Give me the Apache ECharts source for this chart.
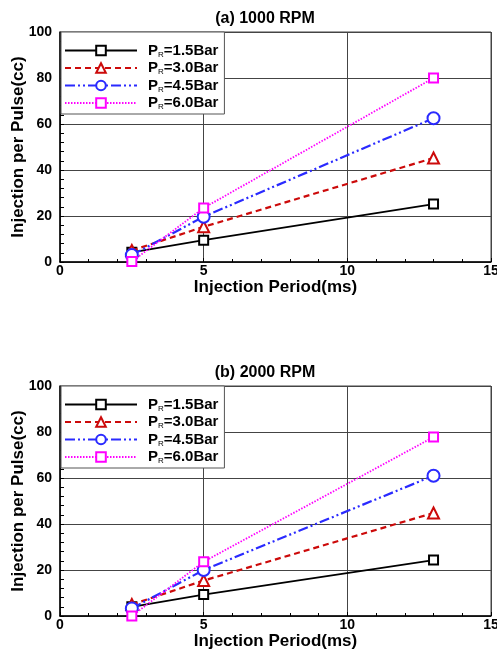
<!DOCTYPE html>
<html>
<head>
    <meta charset="utf-8">
    <title>Injection per Pulse</title>
    <script src="https://cdn.jsdelivr.net/npm/echarts@6/dist/echarts.min.js"></script>
    <style>
        html, body {
            margin: 0;
            padding: 0;
            background: #fff;
        }

        #chart {
            width: 497px;
            height: 649px;
        }
    </style>
</head>
<body>
<div id="chart"></div>

<script type="text/javascript">
    // injection period (ms)
    var periods = [2.5, 5, 13];
    var seriesNames = ['P_R=1.5Bar', 'P_R=3.0Bar', 'P_R=4.5Bar', 'P_R=6.0Bar'];
    var panelTitles = ['(a) 1000 RPM', '(b) 2000 RPM'];

    // (a) 1000 RPM
    var rpm1000_p15 = [4.2, 9.5, 25.2];
    var rpm1000_p30 = [5.0, 15.3, 45.2];
    var rpm1000_p45 = [3.0, 19.7, 62.5];
    var rpm1000_p60 = [0.2, 23.5, 80.0];

    // (b) 2000 RPM
    var rpm2000_p15 = [4.0, 9.3, 24.3];
    var rpm2000_p30 = [5.0, 15.4, 44.8];
    var rpm2000_p45 = [3.3, 20.0, 61.0];
    var rpm2000_p60 = [0.0, 23.6, 77.8];

    var xTicks = [0, 5, 10, 15];
    var yTicks = [0, 20, 40, 60, 80, 100];

    var styles = [
        {color: '#000000', type: 'solid', width: 1.8, symbol: 'rect', size: 9},
        {color: '#cc0a0a', type: [6, 4], width: 2.2, symbol: 'triangle', size: 11},
        {color: '#2a2aff', type: [10, 3, 2, 3, 2, 3], width: 2.2, symbol: 'circle', size: 12},
        {color: '#ff00ff', type: [1.5, 1.5], width: 1.8, symbol: 'rect', size: 9}
    ];

    function pairs(ys) {
        return periods.map(function (x, i) {
            return [x, ys[i]];
        });
    }

    var panels = [
        [rpm1000_p15, rpm1000_p30, rpm1000_p45, rpm1000_p60],
        [rpm2000_p15, rpm2000_p30, rpm2000_p45, rpm2000_p60]
    ];
    var gridTops = [32, 386];
    var gridHeight = 230;

    var grids = [], xAxes = [], yAxes = [], titles = [], legends = [], series = [];

    panels.forEach(function (panel, p) {
        titles.push({
            text: panelTitles[p],
            left: 260,
            textAlign: 'center',
            top: gridTops[p] - 26,
            textStyle: {fontFamily: 'Liberation Sans', fontWeight: 'bold', fontSize: 16, color: '#000'}
        });
        grids.push({
            left: 60, right: 6, top: gridTops[p], height: gridHeight,
            outerBoundsMode: 'none',
            containLabel: false,
            show: true, borderColor: '#444', borderWidth: 1
        });
        xAxes.push({
            gridIndex: p,
            type: 'value',
            min: xTicks[0], max: xTicks[xTicks.length - 1], interval: 5,
            name: 'Injection Period(ms)',
            nameLocation: 'middle',
            nameGap: 17,
            nameMoveOverlap: false,
            nameTextStyle: {fontFamily: 'Liberation Sans', fontWeight: 'bold', fontSize: 17, color: '#000'},
            axisLine: {lineStyle: {color: '#000', width: 1.5}},
            axisTick: {inside: true, length: 4, lineStyle: {color: '#000'}},
            minorTick: {show: true, splitNumber: 5, length: 3, lineStyle: {color: '#000'}},
            axisLabel: {margin: 2, fontFamily: 'Liberation Sans', fontWeight: 'bold', fontSize: 14, color: '#000'},
            splitLine: {show: true, lineStyle: {color: '#444', width: 1}}
        });
        yAxes.push({
            gridIndex: p,
            type: 'value',
            min: yTicks[0], max: yTicks[yTicks.length - 1], interval: 20,
            name: 'Injection per Pulse(cc)',
            nameLocation: 'middle',
            nameGap: 33,
            nameMoveOverlap: false,
            nameTextStyle: {fontFamily: 'Liberation Sans', fontWeight: 'bold', fontSize: 17, color: '#000'},
            axisLine: {show: true, lineStyle: {color: '#000', width: 1.5}},
            axisTick: {show: true, inside: true, length: 4, lineStyle: {color: '#000'}},
            minorTick: {show: true, splitNumber: 5, length: 4, lineStyle: {color: '#000'}},
            axisLabel: {margin: 8, fontFamily: 'Liberation Sans', fontWeight: 'bold', fontSize: 14, color: '#000'},
            splitLine: {show: true, lineStyle: {color: '#444', width: 1}}
        });
        legends.push({
            data: seriesNames.map(function (n) {
                return n + (p ? ' ' : '');
            }),
            orient: 'vertical',
            left: 61,
            top: gridTops[p],
            padding: [11, 6, 3, 3],
            itemGap: 2,
            itemWidth: 72,
            itemHeight: 12,
            borderColor: '#555',
            borderWidth: 1,
            backgroundColor: '#fff',
            formatter: function (name) {
                var rest = name.trim().split('_R')[1];
                return '{p0|P}{s|R}{p|' + rest + '}';
            },
            textStyle: {
                rich: {
                    p0: {fontFamily: 'Liberation Sans', fontWeight: 'bold', fontSize: 15, color: '#000', padding: [0, 0, 0, 6]},
                    p: {fontFamily: 'Liberation Sans', fontWeight: 'bold', fontSize: 15, color: '#000'},
                    s: {fontFamily: 'Liberation Sans', fontSize: 8, color: '#000', padding: [8, 0, 0, 0]}
                }
            }
        });
        panel.forEach(function (ys, i) {
            var st = styles[i];
            series.push({
                name: seriesNames[i] + (p ? ' ' : ''),
                type: 'line',
                xAxisIndex: p,
                yAxisIndex: p,
                data: pairs(ys),
                symbol: st.symbol,
                symbolSize: st.size,
                showAllSymbol: true,
                color: st.color,
                lineStyle: {color: st.color, type: st.type, width: st.width},
                itemStyle: {color: '#fff', borderColor: st.color, borderWidth: 2},
                emphasis: {disabled: true},
                animation: false,
                z: 2 + i
            });
        });
    });

    var myChart = echarts.init(document.getElementById('chart'));
    myChart.setOption({
        backgroundColor: '#fff',
        animation: false,
        title: titles,
        grid: grids,
        xAxis: xAxes,
        yAxis: yAxes,
        legend: legends,
        series: series
    });
</script>
</body>
</html>
